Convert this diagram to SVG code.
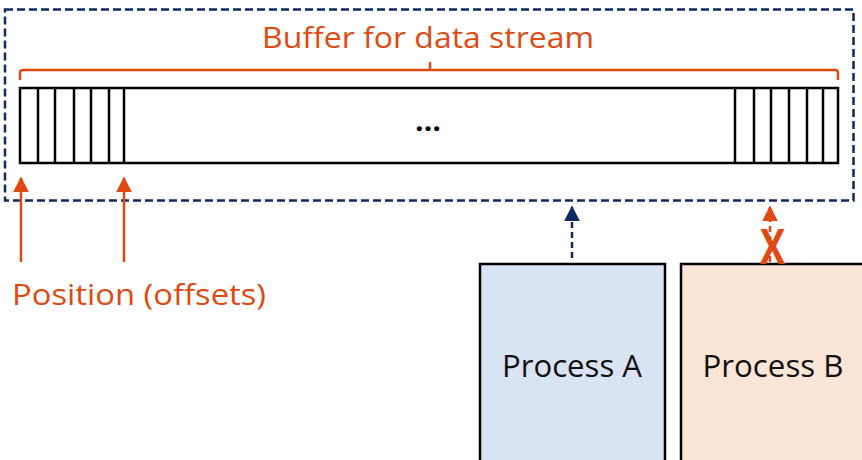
<svg xmlns="http://www.w3.org/2000/svg" width="862" height="460" viewBox="0 0 862 460">
  <style>
    .lbl { font-family: "Open Sans", "Liberation Sans", sans-serif; }
    .orange-text { fill: #DE4A12; font-size: 30px; }
    .proc-text { fill: #111; font-size: 31px; }
    .cell { stroke: #000; stroke-width: 2.5; }
    .proc { stroke: #000; stroke-width: 2.5; }
  </style>
  <defs>
    <marker id="headOrange" viewBox="0 0 10 10" refX="9" refY="5" markerWidth="16" markerHeight="16" markerUnits="userSpaceOnUse" orient="auto">
      <path d="M0,0 L10,5 L0,10 Z" fill="#DE4A12"/>
    </marker>
    <marker id="headNavy" viewBox="0 0 10 10" refX="9" refY="5" markerWidth="16" markerHeight="16" markerUnits="userSpaceOnUse" orient="auto">
      <path d="M0,0 L10,5 L0,10 Z" fill="#0E2A5E"/>
    </marker>
  </defs>

  <rect width="862" height="460" fill="#fff"/>

  <!-- Buffer region -->
  <g id="buffer">
    <rect x="5" y="9.5" width="848.5" height="191" fill="none" stroke="#0E2A5E" stroke-width="2.5" stroke-dasharray="8,4"/>
    <text class="lbl orange-text" x="428" y="48" text-anchor="middle" textLength="332" lengthAdjust="spacingAndGlyphs">Buffer for data stream</text>
    <path d="M20,80 L20,73 Q20,70 23,70 L835,70 Q838,70 838,73 L838,80 M430,70 L430,62" fill="none" stroke="#DE4A12" stroke-width="2.5"/>
    <rect class="cell" x="20" y="88" width="818" height="75" fill="#fff"/>
    <g class="cell">
      <line x1="38" y1="88" x2="38" y2="163"/>
      <line x1="55" y1="88" x2="55" y2="163"/>
      <line x1="74" y1="88" x2="74" y2="163"/>
      <line x1="91" y1="87" x2="91" y2="163"/>
      <line x1="109" y1="88" x2="109" y2="163"/>
      <line x1="124" y1="88" x2="124" y2="163"/>
      <line x1="735" y1="88" x2="735" y2="163"/>
      <line x1="754" y1="88" x2="754" y2="163"/>
      <line x1="771" y1="88" x2="771" y2="163"/>
      <line x1="789" y1="88" x2="789" y2="163"/>
      <line x1="807" y1="88" x2="807" y2="163"/>
      <line x1="823" y1="88" x2="823" y2="163"/>
    </g>
    <text class="lbl" x="428" y="131" text-anchor="middle" font-size="28" font-weight="bold" fill="#000" textLength="26" lengthAdjust="spacingAndGlyphs">...</text>
  </g>

  <!-- Position label -->
  <g id="position">
    <text class="lbl orange-text" x="12" y="305" textLength="254" lengthAdjust="spacingAndGlyphs">Position (offsets)</text>
  </g>

  <!-- Processes -->
  <g id="processA">
    <rect class="proc" x="480" y="264" width="185" height="210" fill="#DAE3F3"/>
    <text class="lbl proc-text" x="572" y="377" text-anchor="middle" textLength="140" lengthAdjust="spacingAndGlyphs">Process A</text>
  </g>
  <g id="processB">
    <rect class="proc" x="681" y="264" width="200" height="210" fill="#FBE5D6"/>
    <text class="lbl proc-text" x="773" y="377" text-anchor="middle" textLength="141" lengthAdjust="spacingAndGlyphs">Process B</text>
  </g>

  <!-- Connectors -->
  <g id="connectors">
    <line x1="21" y1="262" x2="21" y2="178" stroke="#DE4A12" stroke-width="2.5" marker-end="url(#headOrange)"/>
    <line x1="124" y1="262" x2="124" y2="178" stroke="#DE4A12" stroke-width="2.5" marker-end="url(#headOrange)"/>
    <line x1="572" y1="258" x2="572" y2="207" stroke="#0E2A5E" stroke-width="2.5" stroke-dasharray="6,4" marker-end="url(#headNavy)"/>
    <line x1="770" y1="262" x2="770" y2="207" stroke="#DE4A12" stroke-width="2.5" stroke-dasharray="6,4" marker-end="url(#headOrange)"/>
    <text class="lbl" x="772.5" y="264" text-anchor="middle" font-size="48" font-weight="bold" fill="#DE4A12" textLength="25" lengthAdjust="spacingAndGlyphs">X</text>
  </g>
</svg>
